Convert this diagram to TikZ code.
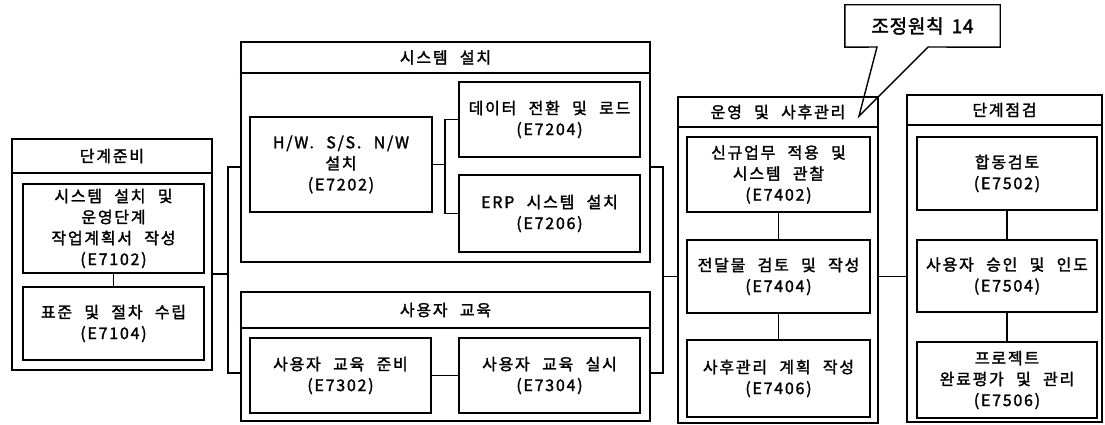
\documentclass[tikz,border=0pt]{standalone}
\usepackage{fontspec}
\newfontfamily\kr[LetterSpace=11, WordSpace=2.3, FakeBold=1.8]{Noto Sans CJK KR}
\newfontfamily\krc[LetterSpace=4, WordSpace=1.6, FakeBold=2]{Noto Sans CJK KR}
\usetikzlibrary{calc}
\tikzset{
  grp/.style={draw, line width=2.6pt, inner sep=0pt},
  box/.style={draw, line width=1.6pt, inner sep=0pt, align=center, font=\kr\fontsize{16}{21}\selectfont},
  hdr/.style={inner sep=0pt, font=\kr\fontsize{16}{18}\selectfont},
  link/.style={line width=1.4pt},
  sep/.style={line width=2.4pt},
}
\begin{document}
\begin{tikzpicture}[x=1pt,y=-1pt]
\useasboundingbox (0,0) rectangle (1105,425);

% ---- 단계준비
\node[grp, minimum width=200, minimum height=231] (prep) at (112,254.5) {};
\draw[sep] (prep.west |- 0,173) -- (prep.east |- 0,173);
\node[hdr] (prepH) at (112,156) {단계준비};
\node[box, minimum width=181, minimum height=89] (p1) at (113.5,228.5) {시스템 설치 및\\운영단계\\작업계획서 작성\\(E7102)};
\node[box, minimum width=181, minimum height=73] (p2) at (113.5,323.5) {표준 및 절차 수립\\(E7104)};
\draw[link] (p1.south) -- (p2.north);

% ---- 시스템 설치
\node[grp, minimum width=409, minimum height=220] (sys) at (445.5,152) {};
\draw[sep] (sys.west |- 0,73) -- (sys.east |- 0,73);
\node[hdr] (sysH) at (445.5,57.5) {시스템 설치};
\node[box, minimum width=182, minimum height=95] (s1) at (341,164.5) {H/W. S/S. N/W\\설치\\(E7202)};
\node[box, minimum width=181, minimum height=75] (s2) at (549.5,119.5) {데이터 전환 및 로드\\(E7204)};
\node[box, minimum width=181, minimum height=77] (s3) at (549.5,213.5) {ERP 시스템 설치\\(E7206)};
\coordinate (sj) at (445,164.5);
\draw[link] (s1.east) -- (sj);
\draw[link] (s2.west) -| (sj) |- (s3.west);

% ---- 사용자 교육
\node[grp, minimum width=409, minimum height=129] (edu) at (445.5,356.5) {};
\draw[sep] (edu.west |- 0,328) -- (edu.east |- 0,328);
\node[hdr] (eduH) at (445.5,310) {사용자 교육};
\node[box, minimum width=181, minimum height=75] (e1) at (340.5,375.5) {사용자 교육 준비\\(E7302)};
\node[box, minimum width=181, minimum height=75] (e2) at (549.5,375.5) {사용자 교육 실시\\(E7304)};
\draw[link] (e1.east) -- (e2.west);

% ---- 운영 및 사후관리
\node[grp, minimum width=200, minimum height=326] (ops) at (778,260) {};
\draw[sep] (ops.west |- 0,127) -- (ops.east |- 0,127);
\node[hdr] (opsH) at (778,112) {운영 및 사후관리};
\node[box, minimum width=183, minimum height=75] (o1) at (778.5,174.5) {신규업무 적용 및\\시스템 관찰\\(E7402)};
\node[box, minimum width=183, minimum height=73] (o2) at (778.5,276.5) {전달물 검토 및 작성\\(E7404)};
\node[box, minimum width=183, minimum height=77] (o3) at (778.5,378.5) {사후관리 계획 작성\\(E7406)};
\draw[link] (o1.south) -- (o2.north);
\draw[link] (o2.south) -- (o3.north);

% ---- 단계점검
\node[grp, minimum width=195, minimum height=327] (chk) at (1004.5,258.5) {};
\draw[sep] (chk.west |- 0,125) -- (chk.east |- 0,125);
\node[hdr] (chkH) at (1004.5,110) {단계점검};
\node[box, minimum width=180, minimum height=73] (c1) at (1007,173.5) {합동검토\\(E7502)};
\node[box, minimum width=180, minimum height=72] (c2) at (1007,276) {사용자 승인 및 인도\\(E7504)};
\node[box, minimum width=180, minimum height=76] (c3) at (1007,380) {프로젝트\\완료평가 및 관리\\(E7506)};
\draw[link] (c1.south) -- (c2.north);
\draw[link] (c2.south) -- (c3.north);

% ---- brackets
\coordinate (bl1) at (228,167);
\coordinate (bl2) at (228,373);
\draw[link] (sys.west |- bl1) -- (bl1) -- (bl2) -- (edu.west |- bl2);
\draw[link] (p1.south -| prep.east) -- (p1.south -| bl1);
\coordinate (br1) at (663,167);
\coordinate (br2) at (663,373);
\draw[link] (sys.east |- br1) -- (br1) -- (br2) -- (edu.east |- br2);
\draw[link] (br1 |- o2) -- (ops.west |- o2);
\draw[link] (ops.east |- o2) -- (chk.west |- o2);

% ---- callout
\node[inner sep=0pt, minimum width=155, minimum height=42, font=\krc\fontsize{19}{21}\selectfont] (call) at (922.5,26) {조정원칙 14};
\coordinate (tip) at (859,116);
\draw[line width=1.4pt, line join=miter] (877,47) -- (call.south west) -- (call.north west) -- (call.north east) -- (call.south east) -- (928,47) -- (tip) -- cycle;
\end{tikzpicture}
\end{document}
